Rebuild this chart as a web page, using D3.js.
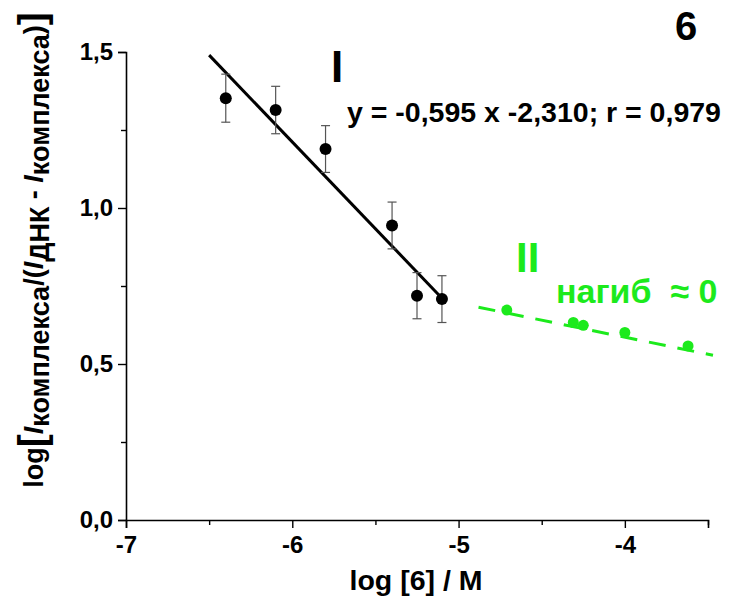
<!DOCTYPE html>
<html>
<head>
<meta charset="utf-8">
<script src="https://cdn.jsdelivr.net/npm/d3@7/dist/d3.min.js"></script>
<style>
  html, body { margin: 0; padding: 0; background: #fff; }
  svg { display: block; font-family: "Liberation Sans", Arial, sans-serif; font-weight: bold; }
</style>
</head>
<body>
<svg id="chart" width="733" height="599"></svg>
<script>
// Series I: measured points with error bars
const seriesIX = [-6.40, -6.10, -5.80, -5.40, -5.25, -5.10];
const seriesIY = [1.352, 1.314, 1.189, 0.944, 0.719, 0.708];
const seriesIErr = [0.077, 0.076, 0.075, 0.075, 0.074, 0.075];
// Linear fit drawn through series I
const fitIX = [-6.50, -5.12];
const fitIY = [1.490, 0.722];

// Series II: points and dashed trend
const seriesIIX = [-4.71, -4.31, -4.25, -4.00, -3.62];
const seriesIIY = [0.673, 0.633, 0.624, 0.601, 0.558];
const fitIIX = [-4.88, -3.47];
const fitIIY = [0.682, 0.528];

// Axis ticks
const xMajorTicks = [-7, -6, -5, -4];
const xMinorTicks = [-6.5, -5.5, -4.5, -3.5];
const yMajorTicks = [0, 0.5, 1.0, 1.5];
const yMinorTicks = [0.25, 0.75, 1.25];
const yTickLabels = ["0,0", "0,5", "1,0", "1,5"];

const GREEN = "#1cea1c";

const svg = d3.select("#chart");
const x = d3.scaleLinear().domain([-7, -3.5]).range([126, 708]);
const y = d3.scaleLinear().domain([0, 1.5]).range([520, 52]);

// Axes
const gx = svg.append("g").attr("transform", `translate(0,${y(0)})`);
gx.call(d3.axisBottom(x).tickValues(xMajorTicks).tickSize(8).tickPadding(8)
  .tickFormat(d => String(d)));
gx.append("g").call(d3.axisBottom(x).tickValues(xMinorTicks).tickSize(5).tickFormat(""))
  .select(".domain").remove();

const gy = svg.append("g").attr("transform", `translate(${x(-7)},0)`);
gy.call(d3.axisLeft(y).tickValues(yMajorTicks).tickSize(8).tickPadding(5)
  .tickFormat((d, i) => yTickLabels[i]));
gy.append("g").call(d3.axisLeft(y).tickValues(yMinorTicks).tickSize(5).tickFormat(""))
  .select(".domain").remove();

svg.selectAll(".domain").attr("stroke", "#000").attr("stroke-width", 1.6);
svg.selectAll(".tick line").attr("stroke", "#000").attr("stroke-width", 1.4);
svg.selectAll(".tick text").attr("fill", "#000")
  .style("font-family", "'Liberation Sans', Arial, sans-serif")
  .style("font-weight", "bold").style("font-size", "24px");

// Fit line I
svg.append("line")
  .attr("x1", x(fitIX[0])).attr("y1", y(fitIY[0]))
  .attr("x2", x(fitIX[1])).attr("y2", y(fitIY[1]))
  .attr("stroke", "#000").attr("stroke-width", 3);

// Error bars for series I
const eb = svg.append("g").attr("stroke", "#555").attr("stroke-width", 1.2);
seriesIX.forEach((xv, i) => {
  const cx = x(xv), top = y(seriesIY[i] + seriesIErr[i]), bot = y(seriesIY[i] - seriesIErr[i]);
  eb.append("line").attr("x1", cx).attr("x2", cx).attr("y1", top).attr("y2", bot);
  eb.append("line").attr("x1", cx - 4.5).attr("x2", cx + 4.5).attr("y1", top).attr("y2", top);
  eb.append("line").attr("x1", cx - 4.5).attr("x2", cx + 4.5).attr("y1", bot).attr("y2", bot);
});

svg.append("g").selectAll("circle").data(seriesIX).join("circle")
  .attr("cx", d => x(d)).attr("cy", (d, i) => y(seriesIY[i])).attr("r", 6).attr("fill", "#000");

// Dashed trend II
svg.append("line")
  .attr("x1", x(fitIIX[0])).attr("y1", y(fitIIY[0]))
  .attr("x2", x(fitIIX[1])).attr("y2", y(fitIIY[1]))
  .attr("stroke", GREEN).attr("stroke-width", 3).attr("stroke-dasharray", "17,12");

svg.append("g").selectAll("circle").data(seriesIIX).join("circle")
  .attr("cx", d => x(d)).attr("cy", (d, i) => y(seriesIIY[i])).attr("r", 5.5).attr("fill", GREEN);

// Annotations
svg.append("text").attr("x", 675).attr("y", 40).attr("font-size", 40).text("6");
svg.append("text").attr("x", 331).attr("y", 82).attr("font-size", 44).text("I");
svg.append("text").attr("x", 347).attr("y", 122).attr("font-size", 28.5)
  .text("y = -0,595 x -2,310; r = 0,979");
svg.append("text").attr("x", 516).attr("y", 272).attr("font-size", 42).attr("fill", GREEN).text("II");
svg.append("text").attr("x", 556).attr("y", 303).attr("font-size", 34).attr("fill", GREEN)
  .attr("xml:space", "preserve").text("нагиб  ≈ 0");

// Axis titles
svg.append("text").attr("x", 416).attr("y", 590).attr("text-anchor", "middle")
  .attr("font-size", 28.5).text("log [6] / M");

const yl = svg.append("text")
  .attr("transform", "translate(43,250) rotate(-90)")
  .attr("text-anchor", "middle").attr("font-size", 27);
yl.append("tspan").text("log");
yl.append("tspan").attr("font-size", 39).attr("dy", 2).text("[");
yl.append("tspan").attr("font-style", "italic").attr("dy", -2).text("I");
yl.append("tspan").attr("dy", 6).text("комплекса");
yl.append("tspan").attr("dy", -6).text("/(");
yl.append("tspan").attr("font-style", "italic").text("I");
yl.append("tspan").attr("dy", 6).text("ДНК");
yl.append("tspan").attr("dy", -6).text(" - ");
yl.append("tspan").attr("font-style", "italic").text("I");
yl.append("tspan").attr("dy", 6).text("комплекса");
yl.append("tspan").attr("dy", -6).text(")");
yl.append("tspan").attr("font-size", 39).attr("dy", 2).text("]");
</script>
</body>
</html>
